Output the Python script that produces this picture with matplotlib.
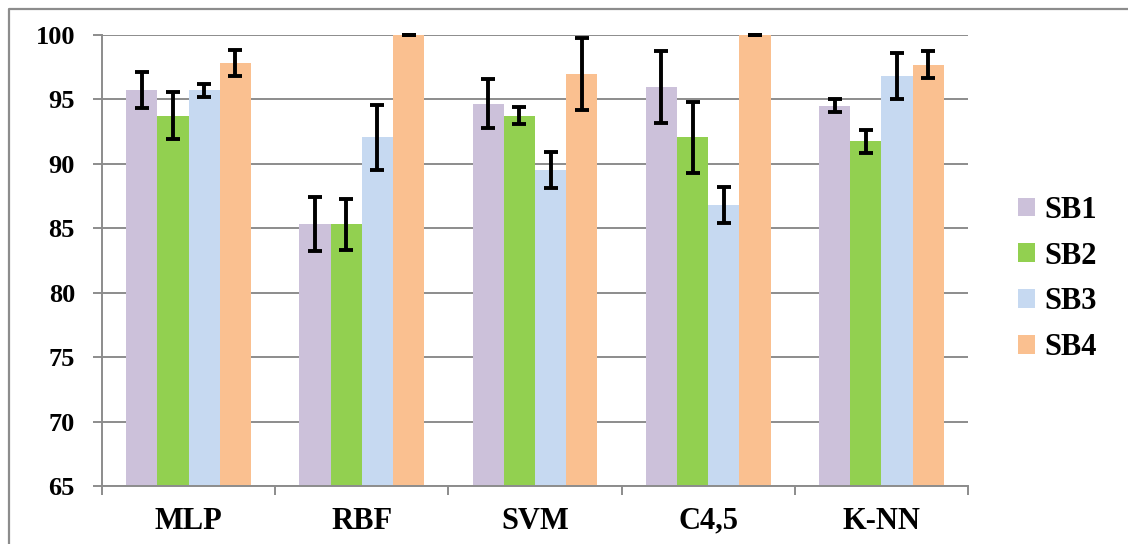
import numpy as np
import matplotlib
matplotlib.use('Agg')
import matplotlib.pyplot as plt
from matplotlib.lines import Line2D

classifiers = ['MLP', 'RBF', 'SVM', 'C4,5', 'K-NN']
series = ['SB1', 'SB2', 'SB3', 'SB4']

sb1 = [95.7, 85.3, 94.65, 95.95, 94.5]
sb2 = [93.75, 85.3, 93.75, 92.05, 91.75]
sb3 = [95.7, 92.05, 89.55, 86.8, 96.8]
sb4 = [97.85, 100.0, 96.95, 100.0, 97.7]

sb1_err = [1.4, 2.1, 1.9, 2.8, 0.5]
sb2_err = [1.85, 2.0, 0.65, 2.75, 0.9]
sb3_err = [0.5, 2.5, 1.4, 1.4, 1.8]
sb4_err = [1.0, 0.0, 2.8, 0.0, 1.05]

colors = ['#CCC1DA', '#92D050', '#C6D9F1', '#FAC090']
grid_col = '#8C8C8C'

plt.rcParams['font.family'] = ['Liberation Serif', 'DejaVu Serif']
plt.rcParams['font.weight'] = 'bold'

fig = plt.figure(figsize=(11.28, 5.44), dpi=100)
ax = fig.add_axes([102 / 1128, 1 - 486 / 544, 866 / 1128, 451 / 544])

x = np.arange(len(classifiers))
w = 0.18
vals = [sb1, sb2, sb3, sb4]
errs = [sb1_err, sb2_err, sb3_err, sb4_err]
for i in range(4):
    pos = x + (i - 1.5) * w
    ax.bar(pos, vals[i], w, bottom=0, color=colors[i], label=series[i], zorder=2)
    ax.errorbar(pos, vals[i], yerr=errs[i], fmt='none', ecolor='black',
                elinewidth=2.8, capsize=4.8, capthick=2.8, zorder=3, clip_on=False)

ax.set_ylim(65, 100)
ax.set_xlim(-0.5, len(classifiers) - 0.5)
ax.set_yticks(np.arange(65, 101, 5))
ax.yaxis.grid(True, color=grid_col, linewidth=1.4, zorder=0)
ax.set_axisbelow(True)

ax.set_xticks(x)
ax.set_xticklabels(classifiers, fontsize=22, fontweight='bold')
ax.set_xticks(np.arange(-0.5, len(classifiers)), minor=True)
ax.tick_params(axis='x', which='major', length=0, pad=15)
ax.tick_params(axis='x', which='minor', length=6.5, width=1.4, color=grid_col, direction='out')
ax.tick_params(axis='y', length=6.5, width=1.4, color=grid_col, pad=13, labelsize=19)
for lab in ax.get_yticklabels():
    lab.set_fontweight('bold')

for s in ['top', 'right']:
    ax.spines[s].set_visible(False)
for s in ['left', 'bottom']:
    ax.spines[s].set_color(grid_col)
    ax.spines[s].set_linewidth(1.4)

ax.legend(loc='center left', bbox_to_anchor=(1003 / 1128, 1 - 279 / 544),
          bbox_transform=fig.transFigure, frameon=False,
          prop={'size': 22, 'weight': 'bold'},
          handlelength=0.56, handleheight=0.56, handletextpad=0.3,
          labelspacing=0.55, borderpad=0)

# outer chart-area border (only top and left edges are visible)
fig.add_artist(Line2D([9 / 1128, 9 / 1128, 1.0], [0.0, 1 - 9 / 544, 1 - 9 / 544],
                      transform=fig.transFigure, color='#8C8C8C', linewidth=1.6))

fig.savefig('out.png', dpi=100)
